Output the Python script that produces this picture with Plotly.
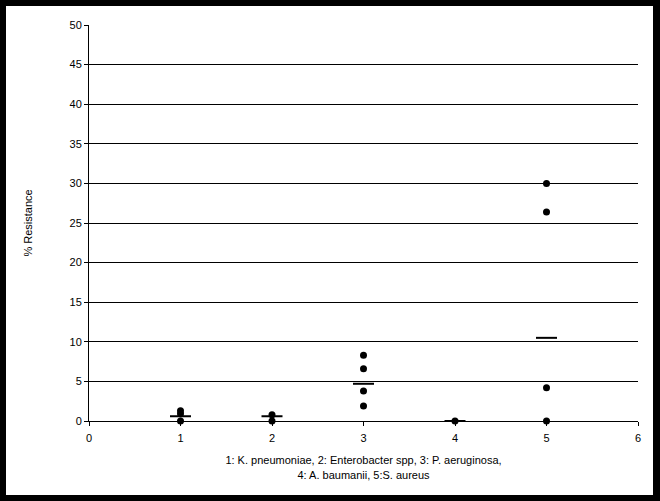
import plotly.graph_objects as go

# isolate values (% resistance) per organism
groups = [1, 2, 3, 4, 5]
k_pneumoniae = [1.3, 0.9, 0.0]
enterobacter = [0.8, 0.0]
p_aeruginosa = [8.3, 6.6, 3.8, 1.9]
a_baumanii = [0.0]
s_aureus = [30.0, 26.4, 4.2, 0.0]
means = [0.6, 0.6, 4.7, 0.0, 10.5]

series = [k_pneumoniae, enterobacter, p_aeruginosa, a_baumanii, s_aureus]

xs, ys = [], []
for g, vals in zip(groups, series):
    xs += [g] * len(vals)
    ys += vals

fig = go.Figure()

# individual points
fig.add_trace(go.Scatter(
    x=xs, y=ys, mode='markers',
    marker=dict(color='black', size=7, symbol='circle'),
    cliponaxis=False, showlegend=False
))

# mean dashes
fig.add_trace(go.Scatter(
    x=groups, y=means, mode='markers',
    marker=dict(symbol='line-ew', size=15, line=dict(color='black', width=2)),
    cliponaxis=False, showlegend=False
))

font = dict(family='Liberation Sans, Arial, sans-serif', size=11, color='black')

fig.update_layout(
    width=660, height=501,
    margin=dict(l=89, r=22, t=25, b=80),
    paper_bgcolor='black',
    plot_bgcolor='white',
    font=font,
    xaxis=dict(
        range=[0, 6], tickmode='linear', tick0=0, dtick=1,
        showgrid=False, zeroline=False,
        showline=True, linecolor='black', linewidth=1,
        ticks='outside', ticklen=4, tickcolor='black', ticklabelstandoff=3,
        title=dict(text='1: K. pneumoniae, 2: Enterobacter spp, 3: P. aeruginosa,<br>4: A. baumanii, 5:S. aureus',
                   font=font, standoff=13),
    ),
    yaxis=dict(
        range=[0, 50], tickmode='linear', tick0=0, dtick=5,
        showgrid=True, gridcolor='black', gridwidth=1,
        zeroline=False,
        showline=True, linecolor='black', linewidth=1,
        ticks='outside', ticklen=4, tickcolor='black',
        title=dict(text='% Resistance', font=font, standoff=34),
    ),
    shapes=[dict(
        type='rect', xref='paper', yref='paper', layer='below',
        x0=(6 - 89) / 549, x1=(653 - 89) / 549,
        y0=(421 - 495) / 396, y1=(421 - 6) / 396,
        fillcolor='white', line=dict(width=0),
    )],
)

# page has no body margin so the figure sits at the window's corner
fig.write_html("out.html", config={'displayModeBar': False},
               post_script="document.body.style.margin='0';")
